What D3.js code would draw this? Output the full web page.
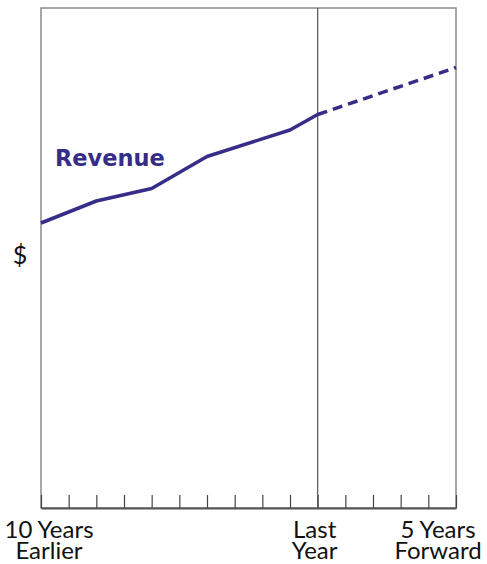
<!DOCTYPE html>
<html>
<head>
<meta charset="utf-8">
<script src="https://cdn.jsdelivr.net/npm/d3@7"></script>
<style>
  body { margin: 0; background: #fff; }
  svg { display: block; }
</style>
</head>
<body>
<div id="chart"></div>
<script>
// year index 0 = ten years earlier, 10 = last year, 15 = five years forward
const pastYears = [0, 2, 4, 6, 9, 10];
const pastRevenue = [57.0, 61.4, 63.9, 70.3, 75.6, 78.7];
const forecastYears = [10, 15];
const forecastRevenue = [78.7, 88.1];
const tickYears = d3.range(0, 16);
const xLabels = [
  {year: 0, lines: ['10 Years', 'Earlier'], dx: 8},
  {year: 10, lines: ['Last', 'Year'], dx: -3},
  {year: 15, lines: ['5 Years', 'Forward'], dx: -18}
];

const width = 487;
const height = 564;
const margin = {top: 8, right: 31, bottom: 56, left: 41};
const innerW = width - margin.left - margin.right;
const innerH = height - margin.top - margin.bottom;
const lineColor = '#352d88';

const x = d3.scaleLinear().domain([0, 15]).range([0, innerW]);
const y = d3.scaleLinear().domain([0, 100]).range([innerH, 0]);

const svg = d3.select('#chart')
    .append('svg')
    .attr('width', width)
    .attr('height', height);

const chart = svg.append('g')
    .attr('transform', `translate(${margin.left},${margin.top})`);

// frame
chart.append('rect')
    .attr('x', 0)
    .attr('y', 0)
    .attr('width', innerW)
    .attr('height', innerH)
    .attr('fill', 'none')
    .attr('stroke', '#8a8a8a')
    .attr('stroke-width', 1.5);

// bottom axis with inward ticks
const axis = chart.append('g')
    .attr('transform', `translate(0,${innerH})`)
    .call(d3.axisBottom(x).tickValues(tickYears).tickSizeInner(-13).tickSizeOuter(0).tickFormat(''));
axis.select('.domain').attr('stroke', '#555').attr('stroke-width', 2);
axis.selectAll('.tick line').attr('stroke', '#444').attr('stroke-width', 1.2);

// last year divider
chart.append('line')
    .attr('x1', x(10))
    .attr('x2', x(10))
    .attr('y1', 0)
    .attr('y2', innerH)
    .attr('stroke', '#555')
    .attr('stroke-width', 1.2);

const line = d3.line()
    .x(d => x(d[0]))
    .y(d => y(d[1]));

chart.append('path')
    .datum(pastYears.map((d, i) => [d, pastRevenue[i]]))
    .attr('d', line)
    .attr('fill', 'none')
    .attr('stroke', lineColor)
    .attr('stroke-width', 3.5)
    .attr('stroke-linejoin', 'round');

chart.append('path')
    .datum(forecastYears.map((d, i) => [d, forecastRevenue[i]]))
    .attr('d', line)
    .attr('fill', 'none')
    .attr('stroke', lineColor)
    .attr('stroke-width', 3.5)
    .attr('stroke-dasharray', '10,6');

chart.append('text')
    .attr('x', 14)
    .attr('y', 158)
    .attr('fill', lineColor)
    .attr('font-family', 'DejaVu Sans, sans-serif')
    .attr('font-weight', 'bold')
    .attr('font-size', '22.5px')
    .text('Revenue');

svg.append('text')
    .attr('x', 20)
    .attr('y', 264)
    .attr('text-anchor', 'middle')
    .attr('fill', '#111')
    .attr('font-family', 'Lato, sans-serif')
    .attr('font-size', '25px')
    .text('$');

const labels = svg.selectAll('.xlabel')
    .data(xLabels)
    .enter().append('text')
    .attr('class', 'xlabel')
    .attr('text-anchor', 'middle')
    .attr('fill', '#111')
    .attr('font-family', 'Lato, sans-serif')
    .attr('font-size', '24px');

labels.selectAll('tspan')
    .data(d => d.lines.map(t => ({t, d})))
    .enter().append('tspan')
    .attr('x', o => margin.left + x(o.d.year) + o.d.dx)
    .attr('y', (o, i) => 538 + i * 21)
    .text(o => o.t);
</script>
</body>
</html>
